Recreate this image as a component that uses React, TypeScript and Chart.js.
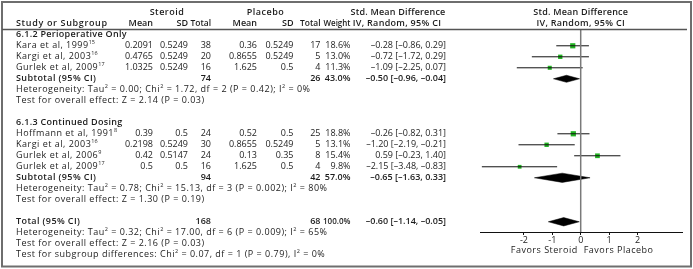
import React, { useEffect, useRef } from 'react';
import { Chart, registerables } from 'chart.js';
Chart.register(...registerables);

// ---------- data ----------
const groupTitles = ['6.1.2 Perioperative Only', '6.1.3 Continued Dosing'];
const groupRows = [0, 8];

const studyNames = ['Kara et al, 1999', 'Kargi et al, 2003', 'Gurlek et al, 2009', 'Hoffmann et al, 1991', 'Kargi et al, 2003', 'Gurlek et al, 2006', 'Gurlek et al, 2009'];
const studyRefs = ['15', '16', '17', '8', '16', '9', '17'];
const studyRows = [1, 2, 3, 9, 10, 11, 12];
const steroidMean = [0.2091, 0.4765, 1.0325, 0.39, 0.2198, 0.42, 0.5];
const steroidSD = [0.5249, 0.5249, 0.5249, 0.5, 0.5249, 0.5147, 0.5];
const steroidTotal = [38, 20, 16, 24, 30, 24, 16];
const placeboMean = [0.36, 0.8655, 1.625, 0.52, 0.8655, 0.13, 1.625];
const placeboSD = [0.5249, 0.5249, 0.5, 0.5, 0.5249, 0.35, 0.5];
const placeboTotal = [17, 5, 4, 25, 5, 8, 4];
const weights = [18.6, 13.0, 11.3, 18.8, 13.1, 15.4, 9.8];
const smd = [-0.28, -0.72, -1.09, -0.26, -1.2, 0.59, -2.15];
const ciLow = [-0.86, -1.72, -2.25, -0.82, -2.19, -0.23, -3.48];
const ciHigh = [0.29, 0.29, 0.07, 0.31, -0.21, 1.4, -0.83];

const pooledLabels = ['Subtotal (95% CI)', 'Subtotal (95% CI)', 'Total (95% CI)'];
const pooledRows = [4, 13, 17];
const pooledSteroidTotal = [74, 94, 168];
const pooledPlaceboTotal = [26, 42, 68];
const pooledWeight = [43.0, 57.0, 100.0];
const pooledSmd = [-0.5, -0.65, -0.6];
const pooledLow = [-0.96, -1.63, -1.14];
const pooledHigh = [-0.04, 0.33, -0.05];
const pooledHalfHeight = [0.32, 0.42, 0.38];

const noteRows = [5, 6, 14, 15, 18, 19, 20];
const noteTexts = [
  'Heterogeneity: Tau^2^ = 0.00; Chi^2^ = 1.72, df = 2 (P = 0.42); I^2^ = 0%',
  'Test for overall effect: Z = 2.14 (P = 0.03)',
  'Heterogeneity: Tau^2^ = 0.78; Chi^2^ = 15.13, df = 3 (P = 0.002); I^2^ = 80%',
  'Test for overall effect: Z = 1.30 (P = 0.19)',
  'Heterogeneity: Tau^2^ = 0.32; Chi^2^ = 17.00, df = 6 (P = 0.009); I^2^ = 65%',
  'Test for overall effect: Z = 2.16 (P = 0.03)',
  'Test for subgroup differences: Chi^2^ = 0.07, df = 1 (P = 0.79), I^2^ = 0%',
];

const xTicks = [-2, -1, 0, 1, 2];
const favorLeft = 'Favors Steroid';
const favorRight = 'Favors Placebo';

// ---------- styling ----------
const FAM = '"Open Sans", sans-serif';
const TXT = '#1c1c1c';
const GREEN = '#22b422';
const FS = 9;
const LS = '0.5px';
const fnt = (s: number, b = false) => `${b ? '600 ' : ''}${s}px ${FAM}`;

const fmtSigned = (v: number) => (v < 0 ? '\u2013' + Math.abs(v).toFixed(2) : v.toFixed(2));
const fmtCI = (e: number, l: number, h: number) => `${fmtSigned(e)} [${fmtSigned(l)}, ${fmtSigned(h)}]`;

function setLS(ctx: any, v: string) {
  if ('letterSpacing' in ctx) ctx.letterSpacing = v;
}

function drawRich(ctx: CanvasRenderingContext2D, text: string, x: number, y: number, bold = false) {
  const parts = text.split('^');
  let cx = x;
  ctx.textAlign = 'left';
  parts.forEach((p, i) => {
    if (!p) return;
    const sup = i % 2 === 1;
    setLS(ctx, sup ? '0px' : LS);
    ctx.font = fnt(sup ? 5.5 : FS, bold);
    ctx.fillText(p, cx, sup ? y - 3 : y);
    cx += ctx.measureText(p).width + (sup ? 0.5 : 0);
  });
  setLS(ctx, '0px');
}

function lbl(ctx: CanvasRenderingContext2D, s: string, x: number, y: number, align: CanvasTextAlign, bold = false, ls = LS) {
  setLS(ctx, ls);
  ctx.font = fnt(FS, bold);
  ctx.textAlign = align;
  ctx.fillText(s, x, y);
  setLS(ctx, '0px');
}
function num(ctx: CanvasRenderingContext2D, s: string, x: number, y: number, bold = false, maxW?: number) {
  setLS(ctx, '0px');
  ctx.font = fnt(FS, bold);
  ctx.textAlign = 'right';
  if (maxW) ctx.fillText(s, x, y, maxW);
  else ctx.fillText(s, x, y);
}

// column right edges
const C_SM = 153, C_SSD = 188, C_ST = 211, C_PM = 257, C_PSD = 293.5, C_PT = 320.5, C_W = 350.5, C_CI = 446, C_LEFT = 16;

const forestPlugin = {
  id: 'forest',
  afterDatasetsDraw(chart: any) {
    const { ctx, chartArea, scales } = chart;
    const x0 = scales.x.getPixelForValue(0);
    ctx.save();
    ctx.strokeStyle = '#7a7a7a';
    ctx.lineWidth = 1.5;
    ctx.beginPath();
    ctx.moveTo(x0, chartArea.top);
    ctx.lineTo(x0, chartArea.bottom);
    ctx.stroke();
    ctx.restore();
  },
  afterDraw(chart: any) {
    const { ctx, chartArea, scales } = chart;
    const ys = scales.y;
    const xs = scales.x;
    const Y = (r: number) => ys.getPixelForValue(r);
    ctx.save();
    ctx.strokeStyle = '#6e6e6e';
    ctx.lineWidth = 2;
    ctx.strokeRect(2, 2, 689, 264.5);
    ctx.strokeStyle = '#555';
    ctx.lineWidth = 1.3;
    ctx.beginPath();
    ctx.moveTo(2, chartArea.top + 0.5);
    ctx.lineTo(687, chartArea.top + 0.5);
    ctx.stroke();

    ctx.fillStyle = TXT;
    ctx.textBaseline = 'middle';
    const x0 = xs.getPixelForValue(0);
    lbl(ctx, 'Steroid', 167, Y(-2), 'center', true);
    lbl(ctx, 'Placebo', 265.5, Y(-2), 'center', true);
    lbl(ctx, 'Std. Mean Difference', 398, Y(-2), 'center', true, '0.2px');
    lbl(ctx, 'Std. Mean Difference', x0, Y(-2), 'center', true, '0.2px');
    lbl(ctx, 'Study or Subgroup', C_LEFT, Y(-1), 'left', true, '0.65px');
    num(ctx, 'Mean', C_SM, Y(-1), true);
    num(ctx, 'SD', C_SSD, Y(-1), true);
    num(ctx, 'Total', C_ST, Y(-1), true, 20.5);
    num(ctx, 'Mean', C_PM, Y(-1), true);
    num(ctx, 'SD', C_PSD, Y(-1), true);
    num(ctx, 'Total', C_PT, Y(-1), true, 20.5);
    num(ctx, 'Weight', C_W, Y(-1), true, 27);
    lbl(ctx, 'IV, Random, 95% CI', 397, Y(-1), 'center', true, '0.3px');
    lbl(ctx, 'IV, Random, 95% CI', x0, Y(-1), 'center', true, '0.3px');

    groupTitles.forEach((g, i) => lbl(ctx, g, C_LEFT, Y(groupRows[i]), 'left', true, '0.3px'));

    studyNames.forEach((n, i) => {
      const y = Y(studyRows[i]);
      drawRich(ctx, `${n}^${studyRefs[i]}^`, C_LEFT, y);
      num(ctx, String(steroidMean[i]), C_SM, y);
      num(ctx, String(steroidSD[i]), C_SSD, y);
      num(ctx, String(steroidTotal[i]), C_ST, y);
      num(ctx, String(placeboMean[i]), C_PM, y);
      num(ctx, String(placeboSD[i]), C_PSD, y);
      num(ctx, String(placeboTotal[i]), C_PT, y);
      num(ctx, weights[i].toFixed(1) + '%', C_W, y);
      num(ctx, fmtCI(smd[i], ciLow[i], ciHigh[i]), C_CI, y);
    });

    pooledLabels.forEach((n, i) => {
      const y = Y(pooledRows[i]);
      lbl(ctx, n, C_LEFT, y, 'left', true, '0.4px');
      num(ctx, String(pooledSteroidTotal[i]), C_ST, y, true);
      num(ctx, String(pooledPlaceboTotal[i]), C_PT, y, true);
      num(ctx, pooledWeight[i].toFixed(1) + '%', C_W, y, true, 27.5);
      num(ctx, fmtCI(pooledSmd[i], pooledLow[i], pooledHigh[i]), C_CI, y, true);
    });

    noteTexts.forEach((t, i) => drawRich(ctx, t, C_LEFT, Y(noteRows[i])));

    const fy = chartArea.bottom + 18.5;
    lbl(ctx, favorLeft, x0 - 3, fy, 'right');
    lbl(ctx, favorRight, x0 + 3, fy, 'left');
    ctx.restore();
  },
};

export default function App() {
  const ref = useRef<HTMLCanvasElement>(null);
  useEffect(() => {
    document.body.style.margin = '0';
    const datasets: any[] = [];
    studyNames.forEach((_, i) => {
      datasets.push({
        type: 'line',
        data: [
          { x: ciLow[i], y: studyRows[i] },
          { x: ciHigh[i], y: studyRows[i] },
        ],
        borderColor: '#111',
        borderWidth: 1,
        pointRadius: 0,
        fill: false,
      });
    });
    pooledRows.forEach((r, i) => {
      const h = pooledHalfHeight[i];
      datasets.push({
        type: 'line',
        data: [
          { x: pooledLow[i], y: r },
          { x: pooledSmd[i], y: r - h },
          { x: pooledHigh[i], y: r },
          { x: pooledSmd[i], y: r + h },
          { x: pooledLow[i], y: r },
        ],
        borderColor: '#000',
        borderWidth: 0.5,
        backgroundColor: '#000',
        pointRadius: 0,
        tension: 0,
        fill: 'shape',
      });
    });
    datasets.push({
      type: 'line',
      showLine: false,
      data: smd.map((v, i) => ({ x: v, y: studyRows[i] })),
      pointStyle: 'rect',
      pointRadius: weights.map((w) => 0.85 * Math.sqrt(w)),
      pointBackgroundColor: GREEN,
      pointBorderWidth: 0,
      borderWidth: 0,
    });

    const chart = new Chart(ref.current as HTMLCanvasElement, {
      type: 'line',
      data: { datasets },
      options: {
        animation: false,
        responsive: false,
        events: [],
        layout: { padding: { left: 480, right: 11, top: 29, bottom: 0 } },
        plugins: { legend: { display: false }, tooltip: { enabled: false } },
        scales: {
          x: {
            type: 'linear',
            min: -3.546,
            max: 3.567,
            afterBuildTicks: (s: any) => {
              s.ticks = xTicks.map((v) => ({ value: v }));
            },
            afterFit: (s: any) => {
              s.height = 37;
            },
            grid: { drawOnChartArea: false, drawTicks: true, tickLength: 3, color: '#111', lineWidth: 1 },
            border: { display: true, color: '#111', width: 1 },
            ticks: { font: { family: FAM, size: 9 }, color: TXT, padding: 0, maxRotation: 0, autoSkip: false },
          },
          y: {
            type: 'linear',
            display: false,
            reverse: true,
            min: -0.527,
            max: 17.93,
          },
        },
      } as any,
      plugins: [forestPlugin],
    });
    return () => chart.destroy();
  }, []);
  return (
    <div style={{ width: 693, height: 269 }}>
      <canvas ref={ref} width={693} height={269} style={{ display: 'block' }} />
    </div>
  );
}
